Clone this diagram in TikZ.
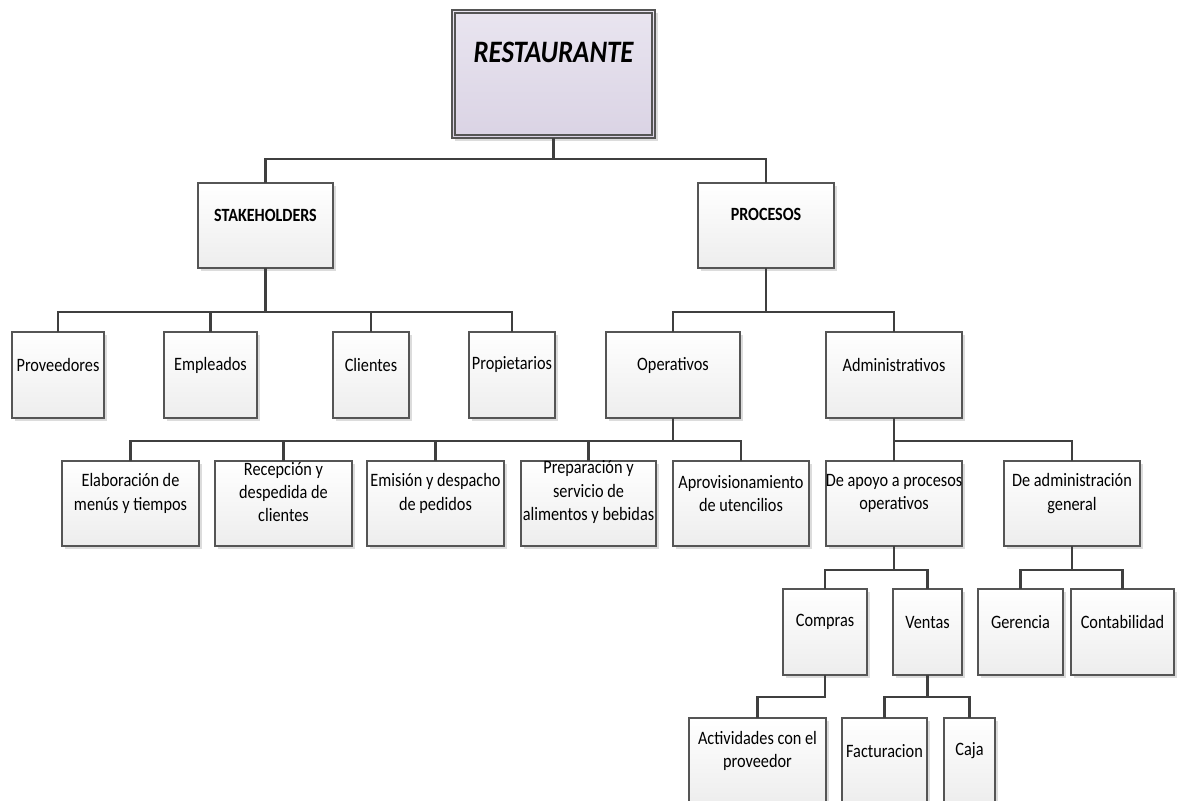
\documentclass[tikz,border=0pt]{standalone}
\usepackage{fontspec}
\newfontfamily\calf[FakeStretch=0.86]{Carlito}
\usetikzlibrary{shadows}
\def\px{0.75pt}
\definecolor{boxline}{HTML}{555555}
\definecolor{conncol}{HTML}{3F3F3F}
\definecolor{boxbot}{HTML}{EDEDED}
\definecolor{lavtop}{HTML}{E9E5F0}
\definecolor{lavbot}{HTML}{DAD3E4}
\definecolor{shadowcol}{HTML}{DCDCDC}
\tikzset{
  bx/.style 2 args={draw=boxline, line width=0.8pt, inner sep=0pt, outer sep=0pt,
    top color=white, bottom color=boxbot,
    drop shadow={shadow xshift=2.6pt, shadow yshift=-2.6pt, fill=shadowcol, opacity=1},
    minimum width=#1*\px, minimum height=#2*\px},
  lbl/.style={font=\calf\fontsize{14.2}{17.4}\selectfont, align=center, inner sep=0pt, text=black},
  blbl/.style={font=\calf\bfseries\fontsize{14}{17.2}\selectfont, align=center, inner sep=0pt},
  conn/.style={draw=conncol, line width=2pt}
}
\begin{document}
\begin{tikzpicture}[x=0.75pt, y=-0.75pt]
\useasboundingbox (0,0) rectangle (1181,800);
\fill[white] (0,0) rectangle (1181,800);
\clip (0,0) rectangle (1181,800);

% bus levels
\coordinate (busA) at (0,159);
\coordinate (busB) at (0,312);
\coordinate (busC) at (0,441);
\coordinate (busD) at (0,570);
\coordinate (busE) at (0,697);

% root
\node[bx={203}{128}, top color=lavtop, bottom color=lavbot] (root) at (553.5,74) {};
\draw[boxline, line width=0.8pt] ([xshift=3*\px,yshift=-3*\px]root.north west) rectangle ([xshift=-3*\px,yshift=3*\px]root.south east);
\node[font=\calf\bfseries\itshape\fontsize{23.4}{28}\selectfont, inner sep=0pt] (root-t) at ([yshift=16pt]root.center) {RESTAURANTE};

% level 2
\node[bx={135}{85}] (stk) at (265.5,225.5) {};
\node[blbl] (stk-t) at ([yshift=7.5pt]stk.center) {STAKEHOLDERS};
\node[bx={136}{85}] (pro) at (766,225.5) {};
\node[blbl] (pro-t) at ([yshift=8.5pt]pro.center) {PROCESOS};

% level 3
\node[bx={92}{86}] (prov) at (58,375) {};
\node[lbl] (prov-t) at ([yshift=7.5pt]prov.center) {Proveedores};
\node[bx={93}{86}] (emp) at (210.5,375) {};
\node[lbl] (emp-t) at ([yshift=7.5pt]emp.center) {Empleados};
\node[bx={76}{86}] (cli) at (371,375) {};
\node[lbl] (cli-t) at ([yshift=7.5pt]cli.center) {Clientes};
\node[bx={86}{86}] (prop) at (512,375) {};
\node[lbl] (prop-t) at ([yshift=7.5pt]prop.center) {Propietarios};
\node[bx={134}{86}] (ope) at (673,375) {};
\node[lbl] (ope-t) at ([yshift=7.5pt]ope.center) {Operativos};
\node[bx={136}{86}] (adm) at (894,375) {};
\node[lbl] (adm-t) at ([yshift=7.5pt]adm.center) {Administrativos};

% level 4
\node[bx={137}{85}] (ela) at (130.5,503.5) {};
\node[lbl] (ela-t) at ([yshift=7.5pt]ela.center) {Elaboración de\\menús y tiempos};
\node[bx={137}{85}] (rec) at (283.5,503.5) {};
\node[lbl] (rec-t) at ([yshift=8.5pt]rec.center) {Recepción y\\despedida de\\clientes};
\node[bx={137}{85}] (emi) at (435.5,503.5) {};
\node[lbl] (emi-t) at ([yshift=7.5pt]emi.center) {Emisión y despacho\\de pedidos};
\node[bx={135}{85}] (pre) at (588.5,503.5) {};
\node[lbl] (pre-t) at ([yshift=8.5pt]pre.center) {Preparación y\\servicio de\\alimentos y bebidas};
\node[bx={136}{85}] (apr) at (741,503.5) {};
\node[lbl] (apr-t) at ([yshift=7.5pt]apr.center) {Aprovisionamiento\\de utencilios};
\node[bx={136}{85}] (apo) at (894,503.5) {};
\node[lbl] (apo-t) at ([yshift=7.5pt]apo.center) {De apoyo a procesos\\operativos};
\node[bx={136}{85}] (dag) at (1072,503.5) {};
\node[lbl] (dag-t) at ([yshift=7.5pt]dag.center) {De administración\\general};

% level 5
\node[bx={84}{86}] (com) at (825,632) {};
\node[lbl] (com-t) at ([yshift=7.5pt]com.center) {Compras};
\node[bx={69}{86}] (ven) at (927.5,632) {};
\node[lbl] (ven-t) at ([yshift=7.5pt]ven.center) {Ventas};
\node[bx={85}{86}] (ger) at (1020.5,632) {};
\node[lbl] (ger-t) at ([yshift=7.5pt]ger.center) {Gerencia};
\node[bx={103}{86}] (con) at (1122.5,632) {};
\node[lbl] (con-t) at ([yshift=7.5pt]con.center) {Contabilidad};

% level 6
\node[bx={137}{86}] (act) at (757.5,761) {};
\node[lbl] (act-t) at ([yshift=7.5pt]act.center) {Actividades con el\\proveedor};
\node[bx={85}{86}] (fac) at (884.5,761) {};
\node[lbl] (fac-t) at ([yshift=7.5pt]fac.center) {Facturacion};
\node[bx={51}{86}] (caj) at (969.5,761) {};
\node[lbl] (caj-t) at ([yshift=7.5pt]caj.center) {Caja};

% connectors
\foreach \c in {stk,pro}
  \draw[conn] (root.south) -- (root.south |- busA) -| (\c.north);
\foreach \c in {prov,emp,cli,prop}
  \draw[conn] (stk.south) -- (stk.south |- busB) -| (\c.north);
\foreach \c in {ope,adm}
  \draw[conn] (pro.south) -- (pro.south |- busB) -| (\c.north);
\foreach \c in {ela,rec,emi,pre,apr}
  \draw[conn] (ope.south) -- (ope.south |- busC) -| (\c.north);
\foreach \c in {apo,dag}
  \draw[conn] (adm.south) -- (adm.south |- busC) -| (\c.north);
\foreach \c in {com,ven}
  \draw[conn] (apo.south) -- (apo.south |- busD) -| (\c.north);
\foreach \c in {ger,con}
  \draw[conn] (dag.south) -- (dag.south |- busD) -| (\c.north);
\draw[conn] (com.south) -- (com.south |- busE) -| (act.north);
\foreach \c in {fac,caj}
  \draw[conn] (ven.south) -- (ven.south |- busE) -| (\c.north);
\end{tikzpicture}
\end{document}
